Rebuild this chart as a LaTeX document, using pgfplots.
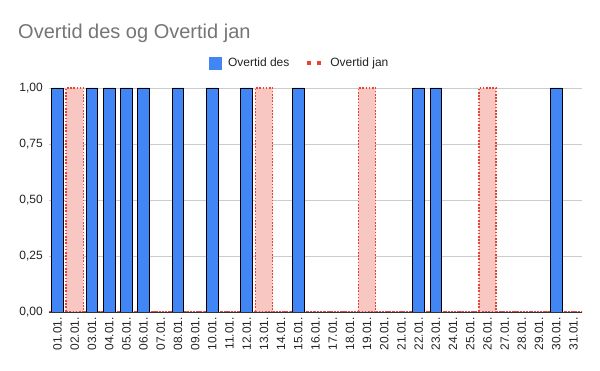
\documentclass[border=0pt]{standalone}
\usepackage{pgfplots}
\pgfplotsset{compat=1.18}
\usepackage{fontspec}
\setmainfont{Liberation Sans}
\definecolor{gblue}{HTML}{4285F4}
\definecolor{gred}{HTML}{EA4335}
\definecolor{gpink}{HTML}{F9C7C2}
\definecolor{ttl}{HTML}{757575}
\definecolor{lbl}{HTML}{222222}
\definecolor{gridc}{HTML}{CCCCCC}
\pgfplotstableread{
x des jan
1 1 0
2 0 1
3 1 0
4 1 0
5 1 0
6 1 0
7 0 0
8 1 0
9 0 0
10 1 0
11 0 0
12 1 0
13 0 1
14 0 0
15 1 0
16 0 0
17 0 0
18 0 0
19 0 1
20 0 0
21 0 0
22 1 0
23 1 0
24 0 0
25 0 0
26 0 1
27 0 0
28 0 0
29 0 0
30 1 0
31 0 0
}\datatable
\begin{document}
\begin{tikzpicture}
\path[use as bounding box] (0,0) rectangle (600pt,371pt);
\node[anchor=base west, text=ttl, font=\fontsize{20}{24}\selectfont, inner sep=0] at (18pt,332pt) {Overtid des og Overtid jan};
\begin{axis}[
  at={(49pt,59pt)}, anchor=south west,
  scale only axis, width=533pt, height=224pt,
  xmin=0.5, xmax=31.5, ymin=0, ymax=1,
  xtick={1,...,31},
  xticklabels={01.01.,02.01.,03.01.,04.01.,05.01.,06.01.,07.01.,08.01.,09.01.,10.01.,11.01.,12.01.,13.01.,14.01.,15.01.,16.01.,17.01.,18.01.,19.01.,20.01.,21.01.,22.01.,23.01.,24.01.,25.01.,26.01.,27.01.,28.01.,29.01.,30.01.,31.01.},
  x tick label style={yshift=-5pt, rotate=90, anchor=east, font=\fontsize{12}{14}\selectfont, text=lbl, inner sep=0pt},
  ytick={0,0.25,0.5,0.75,1},
  yticklabels={{0,00},{0,25},{0,50},{0,75},{1,00}},
  y tick label style={font=\fontsize{12}{14}\selectfont, text=lbl, inner sep=0pt, xshift=-6pt},
  ymajorgrids, grid style={gridc, line width=0.8pt},
  major tick length=0pt,
  axis line style={draw=none},
  clip=false,
  legend columns=2,
  legend style={at={(axis description cs:0.47,1.112)}, anchor=center, draw=none, fill=none,
    font=\fontsize{12}{14}\selectfont, text=lbl,
    /tikz/every odd column/.append style={column sep=5pt},
    /tikz/every even column/.append style={column sep=14pt}},
]
\addlegendimage{legend image code/.code={\fill[gblue] (0pt,-6pt) rectangle (12pt,6pt);}}
\addlegendentry{Overtid des}
\addlegendimage{legend image code/.code={\draw[gred, line width=4pt, dash pattern=on 4pt off 6pt] (0pt,0pt) -- (14pt,0pt);}}
\addlegendentry{Overtid jan}
\addplot[ybar, bar shift=0pt, bar width=1, fill=gpink, draw=gred, line width=1.4pt, dash pattern=on 1.6pt off 1.6pt, forget plot] table[x=x, y=jan] {\datatable};
\addplot[ybar, bar shift=0pt, bar width=0.68, fill=gblue, draw=black, line width=0.9pt, forget plot] table[x=x, y=des] {\datatable};
\draw[black!80, line width=0.9pt] (axis cs:0.5,0) -- (axis cs:31.5,0);
\end{axis}
\end{tikzpicture}
\end{document}
